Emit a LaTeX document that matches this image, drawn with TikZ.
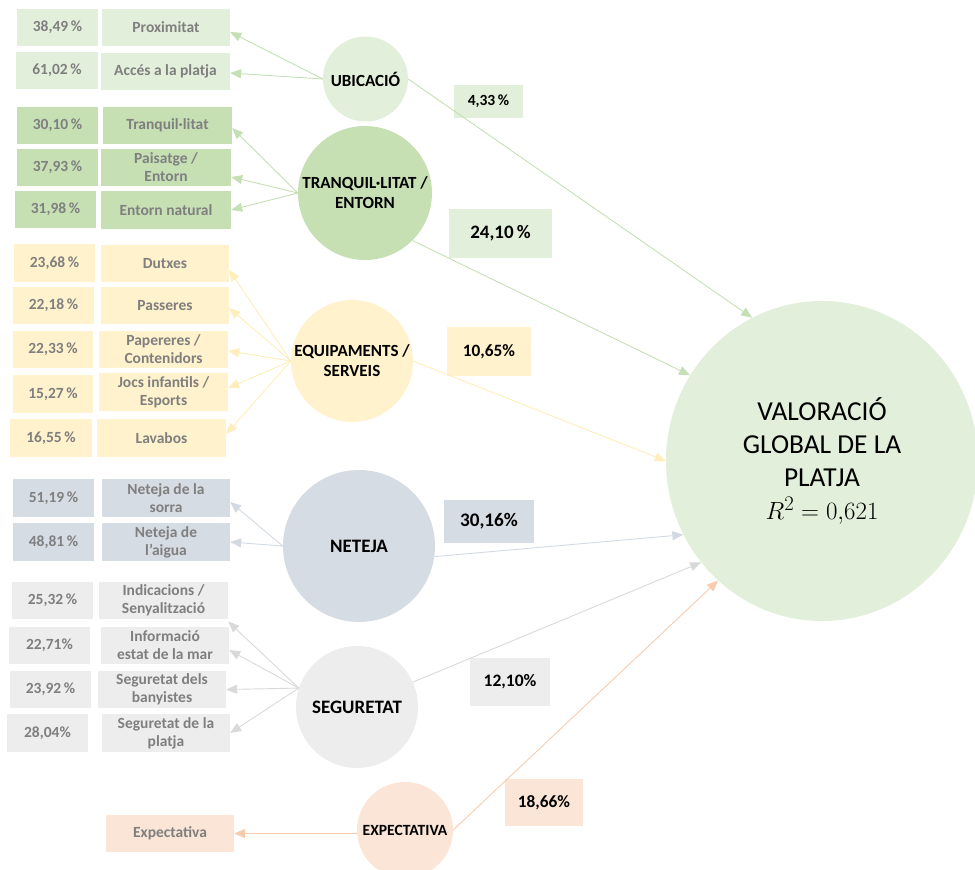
\documentclass[tikz,border=0pt]{standalone}
\usepackage{fontspec}
\setmainfont{Carlito}
\usetikzlibrary{arrows.meta,shapes.geometric}
\definecolor{gLight}{HTML}{E2EFDA}
\definecolor{gMid}{HTML}{C6E0B4}
\definecolor{yel}{HTML}{FFF2CC}
\definecolor{blu}{HTML}{D6DCE4}
\definecolor{gry}{HTML}{EDEDED}
\definecolor{pch}{HTML}{FBE5D6}
\definecolor{txtgray}{HTML}{7F7F7F}
\definecolor{lnGreen}{HTML}{C5E0B4}
\definecolor{lnYel}{HTML}{FFEDBA}
\definecolor{lnBlu}{HTML}{D3D9E3}
\definecolor{lnGry}{HTML}{D9D9D9}
\definecolor{lnPch}{HTML}{F8CBAD}
\begin{document}
\begin{tikzpicture}[x=1pt,y=-1pt,
  lbox/.style={inner sep=0pt, align=center, text=txtgray,
    font=\fontsize{15.5}{18}\selectfont\bfseries},
  pbox/.style={lbox, minimum width=81pt, minimum height=37pt},
  nbox/.style={lbox, minimum width=129pt, minimum height=37pt},
  rbox/.style={inner sep=0pt, align=center, text=black},
  cnode/.style={circle, inner sep=0pt, align=center, text=black},
  conn/.style={line width=0.9pt, -{Triangle[length=11pt,width=9pt]}},
]
\useasboundingbox (0,0) rectangle (975,870);

% ---- big target
\node[ellipse, fill=gLight, minimum width=312pt, minimum height=320pt, inner sep=0pt,
  align=center, font=\fontsize{27.4}{33}\selectfont] (big) at (822,461)
  {VALORACIÓ\\GLOBAL DE LA\\PLATJA\\$R^2=0{,}621$};

% ---- UBICACIO group
\node[pbox, fill=gLight] (p1) at (57.5,27.5) {38,49\,\%};
\node[nbox, fill=gLight, minimum width=128pt] (l1) at (166,27.5) {Proximitat};
\node[pbox, fill=gLight, minimum width=82pt] (p2) at (57,70) {61,02\,\%};
\node[nbox, fill=gLight] (l2) at (165.5,71.5) {Accés a la platja};
\node[cnode, fill=gLight, minimum size=85pt, font=\fontsize{17}{20}\selectfont\bfseries] (ubi) at (365.5,79) {UBICACIÓ};

% ---- TRANQUIL group
\node[pbox, fill=gMid] (p3) at (57.5,125.5) {30,10\,\%};
\node[nbox, fill=gMid] (l3) at (167.5,125.5) {Tranquil·litat};
\node[pbox, fill=gMid] (p4) at (57.5,167.5) {37,93\,\%};
\node[nbox, fill=gMid, minimum width=130pt] (l4) at (166,167.5) {Paisatge /\\Entorn};
\node[pbox, fill=gMid] (p5) at (55.5,209.5) {31,98\,\%};
\node[nbox, fill=gMid, minimum width=130pt, minimum height=38pt] (l5) at (166,210) {Entorn natural};
\node[cnode, fill=gMid, minimum size=134pt, font=\fontsize{17}{20}\selectfont\bfseries] (tranq) at (365,193) {TRANQUIL·LITAT /\\ENTORN};

% ---- EQUIPAMENTS group
\node[pbox, fill=yel, minimum height=38pt] (p6) at (54.5,263) {23,68\,\%};
\node[nbox, fill=yel, minimum width=128pt] (l6) at (165,263.5) {Dutxes};
\node[pbox, fill=yel] (p7) at (53.5,305.5) {22,18\,\%};
\node[nbox, fill=yel, minimum width=128pt] (l7) at (165,305.5) {Passeres};
\node[pbox, fill=yel, minimum width=80pt] (p8) at (53,349.5) {22,33\,\%};
\node[nbox, fill=yel] (l8) at (163.5,349.5) {Papereres /\\Contenidors};
\node[pbox, fill=yel, minimum width=80pt, minimum height=38pt] (p9) at (53,394) {15,27\,\%};
\node[nbox, fill=yel, minimum height=38pt] (l9) at (163.5,392) {Jocs infantils /\\Esports};
\node[pbox, fill=yel, minimum width=82pt, minimum height=38pt] (p10) at (51,438) {16,55\,\%};
\node[nbox, fill=yel, minimum height=38pt] (l10) at (161.5,438) {Lavabos};
\node[cnode, fill=yel, minimum size=122pt, font=\fontsize{17}{20}\selectfont\bfseries] (equip) at (352,361) {EQUIPAMENTS /\\SERVEIS};

% ---- NETEJA group
\node[pbox, fill=blu, minimum height=38pt] (p11) at (53.5,498) {51,19\,\%};
\node[nbox, fill=blu, minimum width=128pt, minimum height=38pt] (l11) at (166,498) {Neteja de la\\sorra};
\node[pbox, fill=blu, minimum height=38pt] (p12) at (53.5,542) {48,81\,\%};
\node[nbox, fill=blu, minimum width=128pt, minimum height=38pt] (l12) at (166,542) {Neteja de\\l’aigua};
\node[cnode, fill=blu, minimum size=152pt, font=\fontsize{19}{22}\selectfont\bfseries] (net) at (359,546) {NETEJA};

% ---- SEGURETAT group
\node[pbox, fill=gry] (p13) at (52.5,600.5) {25,32\,\%};
\node[nbox, fill=gry] (l13) at (163.5,600.5) {Indicacions /\\Senyalització};
\node[pbox, fill=gry] (p14) at (49.5,645.5) {22,71\%};
\node[nbox, fill=gry, minimum width=128pt] (l14) at (165,645.5) {Informació\\estat de la mar};
\node[pbox, fill=gry] (p15) at (50.5,689.5) {23,92\,\%};
\node[nbox, fill=gry, minimum width=128pt] (l15) at (162,689.5) {Seguretat dels\\banyistes};
\node[pbox, fill=gry, minimum height=38pt] (p16) at (47.5,733) {28,04\%};
\node[nbox, fill=gry, minimum width=128pt, minimum height=38pt] (l16) at (166,733) {Seguretat de la\\platja};
\node[cnode, fill=gry, minimum size=122pt, font=\fontsize{19}{22}\selectfont\bfseries] (seg) at (357,707) {SEGURETAT};

% ---- EXPECTATIVA group
\node[nbox, fill=pch, minimum width=128pt] (l17) at (170,833.5) {Expectativa};
\node[cnode, fill=pch, minimum size=96pt, font=\fontsize{15.6}{18}\selectfont\bfseries] (exp) at (405,830) {EXPECTATIVA};

% ---- right percentage boxes
\node[rbox, fill=gLight, minimum width=69pt, minimum height=33pt, font=\fontsize{15.5}{18}\selectfont\bfseries] (r1) at (488.5,101.5) {4,33\,\%};
\node[rbox, fill=gLight, minimum width=103pt, minimum height=49pt, font=\fontsize{19}{22}\selectfont\bfseries] (r2) at (500.5,233.5) {24,10\,\%};
\node[rbox, fill=yel, minimum width=84pt, minimum height=49pt, font=\fontsize{17.3}{20}\selectfont\bfseries] (r3) at (489,351.5) {10,65\%};
\node[rbox, fill=blu, minimum width=90pt, minimum height=43pt, font=\fontsize{19.2}{22}\selectfont\bfseries] (r4) at (489,521.5) {30,16\%};
\node[rbox, fill=gry, minimum width=80pt, minimum height=48pt, font=\fontsize{17.5}{20}\selectfont\bfseries] (r5) at (510,682) {12,10\%};
\node[rbox, fill=pch, minimum width=78pt, minimum height=47pt, font=\fontsize{17.3}{20}\selectfont\bfseries] (r6) at (544,802.5) {18,66\%};

% ---- connectors to indicators
\begin{scope}[conn, draw=lnGreen, fill=lnGreen]
\draw (ubi.west) -- ([yshift=-4.5pt]l1.east);
\draw (ubi.west) -- ([yshift=-1.5pt]l2.east);
\draw (tranq.west) -- ([yshift=-2.5pt]l3.east);
\draw (tranq.west) -- ([yshift=-9.5pt]l4.east);
\draw (tranq.west) -- (l5.east);
\end{scope}
\begin{scope}[conn, draw=lnYel]
\draw (equip.west) -- ([yshift=-6.5pt]l6.east);
\draw (equip.west) -- ([yshift=-2.5pt]l7.east);
\draw (equip.west) -- ([yshift=-1.5pt]l8.east);
\draw (equip.west) -- ([yshift=4pt]l9.east);
\draw (equip.west) -- ([yshift=4pt]l10.east);
\end{scope}
\begin{scope}[conn, draw=lnBlu]
\draw (net.west) -- ([yshift=-4pt]l11.east);
\draw (net.west) -- (l12.east);
\end{scope}
\begin{scope}[conn, draw=lnGry]
\draw (seg.162) -- ([yshift=-21pt]l13.east);
\draw (seg.162) -- ([yshift=-4.5pt]l14.east);
\draw (seg.162) -- (l15.east);
\draw (seg.162) -- (l16.east);
\end{scope}
\draw[conn, draw=lnPch] (exp.west |- l17.east) -- (l17.east);

% ---- connectors to global rating
\draw[conn, draw=lnGreen] (ubi.east) -- (big.116.7);
\draw[conn, draw=lnGreen] (tranq.-45) -- (big.147);
\draw[conn, draw=lnYel] (equip.east) -- (big.180);
\draw[conn, draw=lnBlu] (net.-8) -- (big.208);
\draw[conn, draw=lnGry] (seg.24) -- (big.220);
\draw[conn, draw=lnPch] (exp.east) -- (big.229.5);
\end{tikzpicture}
\end{document}
